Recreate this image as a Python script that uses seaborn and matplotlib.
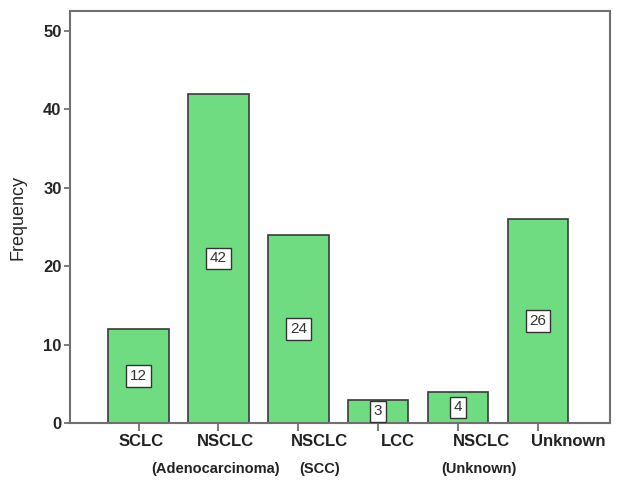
import matplotlib
matplotlib.use("Agg")
import matplotlib.pyplot as plt
import matplotlib.transforms as mtransforms
import seaborn as sns

categories = ["SCLC", "NSCLC (Adenocarcinoma)", "NSCLC (SCC)", "LCC", "NSCLC (Unknown)", "Unknown"]
frequency = [12, 42, 24, 3, 4, 26]
label_top = ["SCLC", "NSCLC", "NSCLC", "LCC", "NSCLC", "Unknown"]
label_bottom = ["", "(Adenocarcinoma)", "(SCC)", "", "(Unknown)", ""]
# label shifts in pixels (the original labels are not centred on the ticks)
top_shift = [2, 7, 21, 20, 23, 30]
bottom_shift = [0, -3, 21, 0, 21, 0]

sns.set_style("white")
plt.rcParams["font.family"] = ["Liberation Sans", "DejaVu Sans"]

fig = plt.figure(figsize=(6.19, 4.82), dpi=100)
ax = fig.add_axes([0.113, 0.122, 0.872, 0.855])

sns.barplot(x=categories, y=frequency, color="#6fdc82", saturation=1,
            edgecolor="#3a3a3a", linewidth=1.2, width=0.76, ax=ax)

ax.bar_label(ax.containers[0], labels=[str(v) for v in frequency], label_type="center",
             fontsize=11, color="#333333",
             bbox=dict(boxstyle="square,pad=0.25", fc="white", ec="#333333", lw=1))

ax.set_xlim(-0.86, 5.9)
ax.set_ylim(0, 52.5)
ax.set_yticks([0, 10, 20, 30, 40, 50])
ax.set_yticklabels(["0", "10", "20", "30", "40", "50"], fontsize=12, fontweight="bold")
ax.set_xticks(range(len(categories)))
ax.set_xticklabels([""] * len(categories))
ax.tick_params(axis="both", direction="out", length=4, width=1.2, color="#666666", pad=2,
               bottom=True, left=True)
ax.tick_params(axis="x", length=6)
ax.set_ylabel("Frequency", fontsize=13, labelpad=12)
ax.set_xlabel("")

for side in ax.spines.values():
    side.set_visible(True)
    side.set_color("#707070")
    side.set_linewidth(1.5)

for i in range(len(categories)):
    t1 = mtransforms.offset_copy(ax.get_xaxis_transform(), fig=fig, x=top_shift[i], y=0, units="dots")
    ax.text(i, -0.045, label_top[i], transform=t1, ha="center", va="center",
            fontsize=12, fontweight="bold", color="#222222")
    if label_bottom[i]:
        t2 = mtransforms.offset_copy(ax.get_xaxis_transform(), fig=fig, x=bottom_shift[i], y=0, units="dots")
        ax.text(i, -0.11, label_bottom[i], transform=t2, ha="center", va="center",
                fontsize=10.5, fontweight="bold", color="#222222")

fig.savefig("out.png", dpi=100)
